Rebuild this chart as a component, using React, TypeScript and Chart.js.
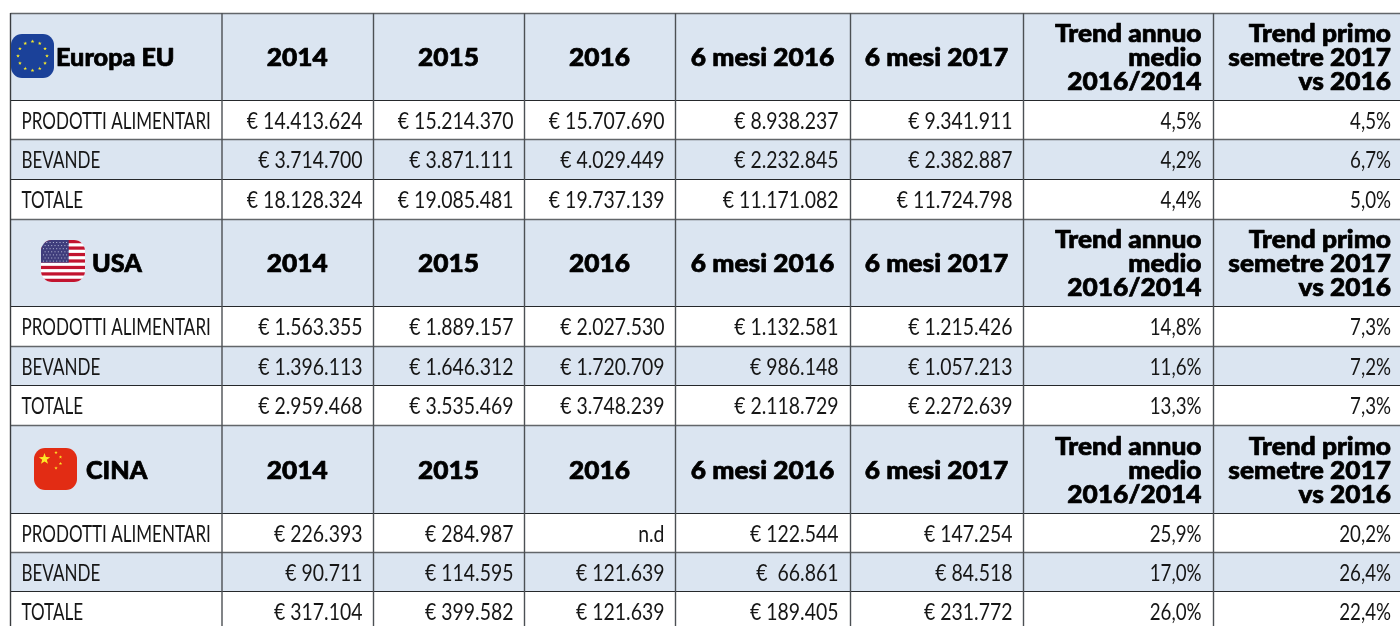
import React, { useEffect, useRef } from "react";
import { Chart, registerables } from "chart.js";

Chart.register(...registerables);

// ---- data ----
const yearHeads = ["2014", "2015", "2016", "6 mesi 2016", "6 mesi 2017"];
const trendHeadA = ["Trend annuo", "medio", "2016/2014"];
const trendHeadB = ["Trend primo", "semetre 2017", "vs 2016"];
const rowNames = ["PRODOTTI ALIMENTARI", "BEVANDE", "TOTALE"];
const regionNames = ["Europa EU", "USA", "CINA"];

const euFood = ["€ 14.413.624", "€ 15.214.370", "€ 15.707.690", "€ 8.938.237", "€ 9.341.911", "4,5%", "4,5%"];
const euDrink = ["€ 3.714.700", "€ 3.871.111", "€ 4.029.449", "€ 2.232.845", "€ 2.382.887", "4,2%", "6,7%"];
const euTotal = ["€ 18.128.324", "€ 19.085.481", "€ 19.737.139", "€ 11.171.082", "€ 11.724.798", "4,4%", "5,0%"];
const usFood = ["€ 1.563.355", "€ 1.889.157", "€ 2.027.530", "€ 1.132.581", "€ 1.215.426", "14,8%", "7,3%"];
const usDrink = ["€ 1.396.113", "€ 1.646.312", "€ 1.720.709", "€ 986.148", "€ 1.057.213", "11,6%", "7,2%"];
const usTotal = ["€ 2.959.468", "€ 3.535.469", "€ 3.748.239", "€ 2.118.729", "€ 2.272.639", "13,3%", "7,3%"];
const cnFood = ["€ 226.393", "€ 284.987", "n.d", "€ 122.544", "€ 147.254", "25,9%", "20,2%"];
const cnDrink = ["€ 90.711", "€ 114.595", "€ 121.639", "€  66.861", "€ 84.518", "17,0%", "26,4%"];
const cnTotal = ["€ 317.104", "€ 399.582", "€ 121.639", "€ 189.405", "€ 231.772", "26,0%", "22,4%"];

const regionRows = [
  [euFood, euDrink, euTotal],
  [usFood, usDrink, usTotal],
  [cnFood, cnDrink, cnTotal],
];

// ---- layout, in the units of the two linear scales ----
const colEdges = [10.5, 222, 373.5, 524.5, 675.5, 850.5, 1023.5, 1213.5, 1420];
const cellRights = [362.5, 513.5, 664.5, 838.5, 1012.5, 1201.5, 1391];
const rowEdges = [
  [13.5, 100.5, 139.5, 179.5, 219.5],
  [219.5, 306.5, 346.5, 385.5, 425.5],
  [425.5, 513.5, 552.5, 591.5, 631],
];
const flagBoxes = [
  [11, 34, 43, 44],
  [41, 240, 44, 42],
  [34, 448, 43, 42],
];
const regionLabelX = [56, 92, 86];
const BAND = "#dbe5f1";
const RULE_GREY = "#62666a";
const RULE_DARK = "#25282b";
const BODY_FONT = "400 24px Lato";
const HEAD_FONT = "900 24px Lato";
const SCALE_BY_KIND: Record<string, number> = { region: 1.05, head: 1.095, label: 0.71, value: 0.81, percent: 0.78 };

type Anchor = { x: number; y: number; text: string; kind: string; align: string };

function buildAnchors(): Anchor[] {
  const out: Anchor[] = [];
  regionRows.forEach((rows, r) => {
    const edges = rowEdges[r];
    const headMid = (edges[0] + edges[1]) / 2;
    out.push({ x: regionLabelX[r], y: headMid, text: regionNames[r], kind: "region", align: "left" });
    yearHeads.forEach((h, c) => {
      out.push({ x: (colEdges[c + 1] + colEdges[c + 2]) / 2 - 0.5, y: headMid, text: h, kind: "head", align: "center" });
    });
    [trendHeadA, trendHeadB].forEach((lines, t) => {
      lines.forEach((l, i) => {
        out.push({ x: cellRights[5 + t], y: headMid + (i - 1) * 24, text: l, kind: "head", align: "right" });
      });
    });
    rows.forEach((vals, i) => {
      const mid = (edges[i + 1] + edges[i + 2]) / 2;
      out.push({ x: colEdges[0] + 11, y: mid, text: rowNames[i], kind: "label", align: "left" });
      vals.forEach((v, c) => {
        out.push({ x: cellRights[c], y: mid, text: v, kind: c >= 5 ? "percent" : "value", align: "right" });
      });
    });
  });
  return out;
}

function roundedPath(ctx: CanvasRenderingContext2D, x: number, y: number, w: number, h: number, r: number) {
  ctx.beginPath();
  ctx.roundRect(x, y, w, h, r);
}

function star(ctx: CanvasRenderingContext2D, cx: number, cy: number, R: number, rot = -Math.PI / 2) {
  ctx.beginPath();
  for (let i = 0; i < 10; i++) {
    const rad = i % 2 === 0 ? R : R * 0.4;
    const a = rot + (i * Math.PI) / 5;
    ctx.lineTo(cx + rad * Math.cos(a), cy + rad * Math.sin(a));
  }
  ctx.closePath();
  ctx.fill();
}

function drawFlag(ctx: CanvasRenderingContext2D, idx: number, x: number, y: number, w: number, h: number) {
  ctx.save();
  roundedPath(ctx, x, y, w, h, 11);
  ctx.clip();
  if (idx === 0) {
    ctx.fillStyle = "#1b4199";
    ctx.fillRect(x, y, w, h);
    ctx.fillStyle = "#f6e92a";
    for (let i = 0; i < 12; i++) {
      const a = (i * Math.PI) / 6;
      star(ctx, x + w / 2 + 14.5 * Math.sin(a), y + h / 2 - 14.5 * Math.cos(a), 2);
    }
  } else if (idx === 1) {
    ctx.fillStyle = "#ffffff";
    ctx.fillRect(x, y, w, h);
    ctx.fillStyle = "#c2142f";
    const sh = h / 13;
    for (let i = 0; i < 13; i += 2) ctx.fillRect(x, y + i * sh, w, sh);
    ctx.fillStyle = "#3f3d7c";
    ctx.fillRect(x, y, w * 0.63, sh * 7);
    ctx.fillStyle = "#b9bcd8";
    for (let j = 0; j < 7; j++) {
      for (let i = 0; i < 8; i++) {
        ctx.fillRect(x + 2 + i * 3.3 + (j % 2) * 1.6, y + 2 + j * 3.1, 1, 1);
      }
    }
  } else {
    ctx.fillStyle = "#e22c14";
    ctx.fillRect(x, y, w, h);
    ctx.fillStyle = "#fde725";
    star(ctx, x + 10.5, y + 11, 6);
    star(ctx, x + 22, y + 4.5, 1.8);
    star(ctx, x + 26.5, y + 9, 1.8);
    star(ctx, x + 26.5, y + 15.5, 1.8);
    star(ctx, x + 22, y + 20, 1.8);
  }
  ctx.restore();
}

const tablePlugin = {
  id: "tablePlugin",
  beforeDatasetsDraw(chart: any) {
    const { ctx } = chart;
    const xs = chart.scales.x;
    const ys = chart.scales.y;
    const px = (v: number) => xs.getPixelForValue(v);
    const py = (v: number) => ys.getPixelForValue(v);
    ctx.save();
    const left = px(colEdges[0]);
    const right = px(colEdges[colEdges.length - 1]);
    ctx.fillStyle = BAND;
    rowEdges.forEach((e) => {
      ctx.fillRect(left, py(e[0]), right - left, py(e[1]) - py(e[0]));
      ctx.fillRect(left, py(e[2]), right - left, py(e[3]) - py(e[2]));
    });
    rowEdges.forEach((e) => {
      e.slice(0, 4).forEach((v, i) => {
        const dark = i === 1 || i === 3;
        ctx.strokeStyle = dark ? RULE_DARK : RULE_GREY;
        ctx.lineWidth = dark ? 1.2 : 1.6;
        ctx.beginPath();
        ctx.moveTo(left, py(v));
        ctx.lineTo(right, py(v));
        ctx.stroke();
      });
    });
    colEdges.slice(0, 8).forEach((v, i) => {
      ctx.strokeStyle = i === 0 ? "#3a3d40" : "#4c5054";
      ctx.lineWidth = 1.4;
      ctx.beginPath();
      ctx.moveTo(px(v), py(13));
      ctx.lineTo(px(v), py(626));
      ctx.stroke();
    });
    flagBoxes.forEach((b, i) => drawFlag(ctx, i, px(b[0]), py(b[1]), b[2], b[3]));
    ctx.restore();
  },
  afterDatasetsDraw(chart: any) {
    const { ctx } = chart;
    const meta = chart.getDatasetMeta(0);
    const data = chart.data.datasets[0].data as Anchor[];
    ctx.save();
    ctx.textBaseline = "alphabetic";
    ctx.lineJoin = "round";
    meta.data.forEach((el: any, i: number) => {
      const a = data[i];
      const head = a.kind === "head" || a.kind === "region";
      ctx.font = head ? HEAD_FONT : BODY_FONT;
      ctx.textAlign = a.align;
      ctx.save();
      ctx.translate(el.x, el.y + (head ? 9 : 8.5));
      ctx.scale(SCALE_BY_KIND[a.kind], 1);
      ctx.fillStyle = head ? "#000000" : "#161616";
      ctx.fillText(a.text, 0, 0);
      if (head) {
        ctx.strokeStyle = "#000000";
        ctx.lineWidth = 0.7;
        ctx.strokeText(a.text, 0, 0);
      }
      ctx.restore();
    });
    ctx.restore();
  },
};

export default function App() {
  const ref = useRef<HTMLCanvasElement | null>(null);
  useEffect(() => {
    if (!ref.current) return;
    const chart = new Chart(ref.current, {
      type: "scatter",
      data: {
        datasets: [{ label: "celle", data: buildAnchors() as any, pointRadius: 0, pointHoverRadius: 0, showLine: false }],
      },
      options: {
        responsive: false,
        animation: false,
        events: [],
        layout: { padding: 0 },
        plugins: { legend: { display: false }, tooltip: { enabled: false } },
        scales: {
          x: { type: "linear", display: false, min: 0, max: 1400 },
          y: { type: "linear", display: false, min: 0, max: 626, reverse: true },
        },
      },
      plugins: [tablePlugin],
    } as any);
    return () => chart.destroy();
  }, []);
  return (
    <div style={{ position: "fixed", left: 0, top: 0, width: 1400, height: 626, background: "#fff" }}>
      <canvas ref={ref} width={1400} height={626} style={{ display: "block" }} />
    </div>
  );
}
